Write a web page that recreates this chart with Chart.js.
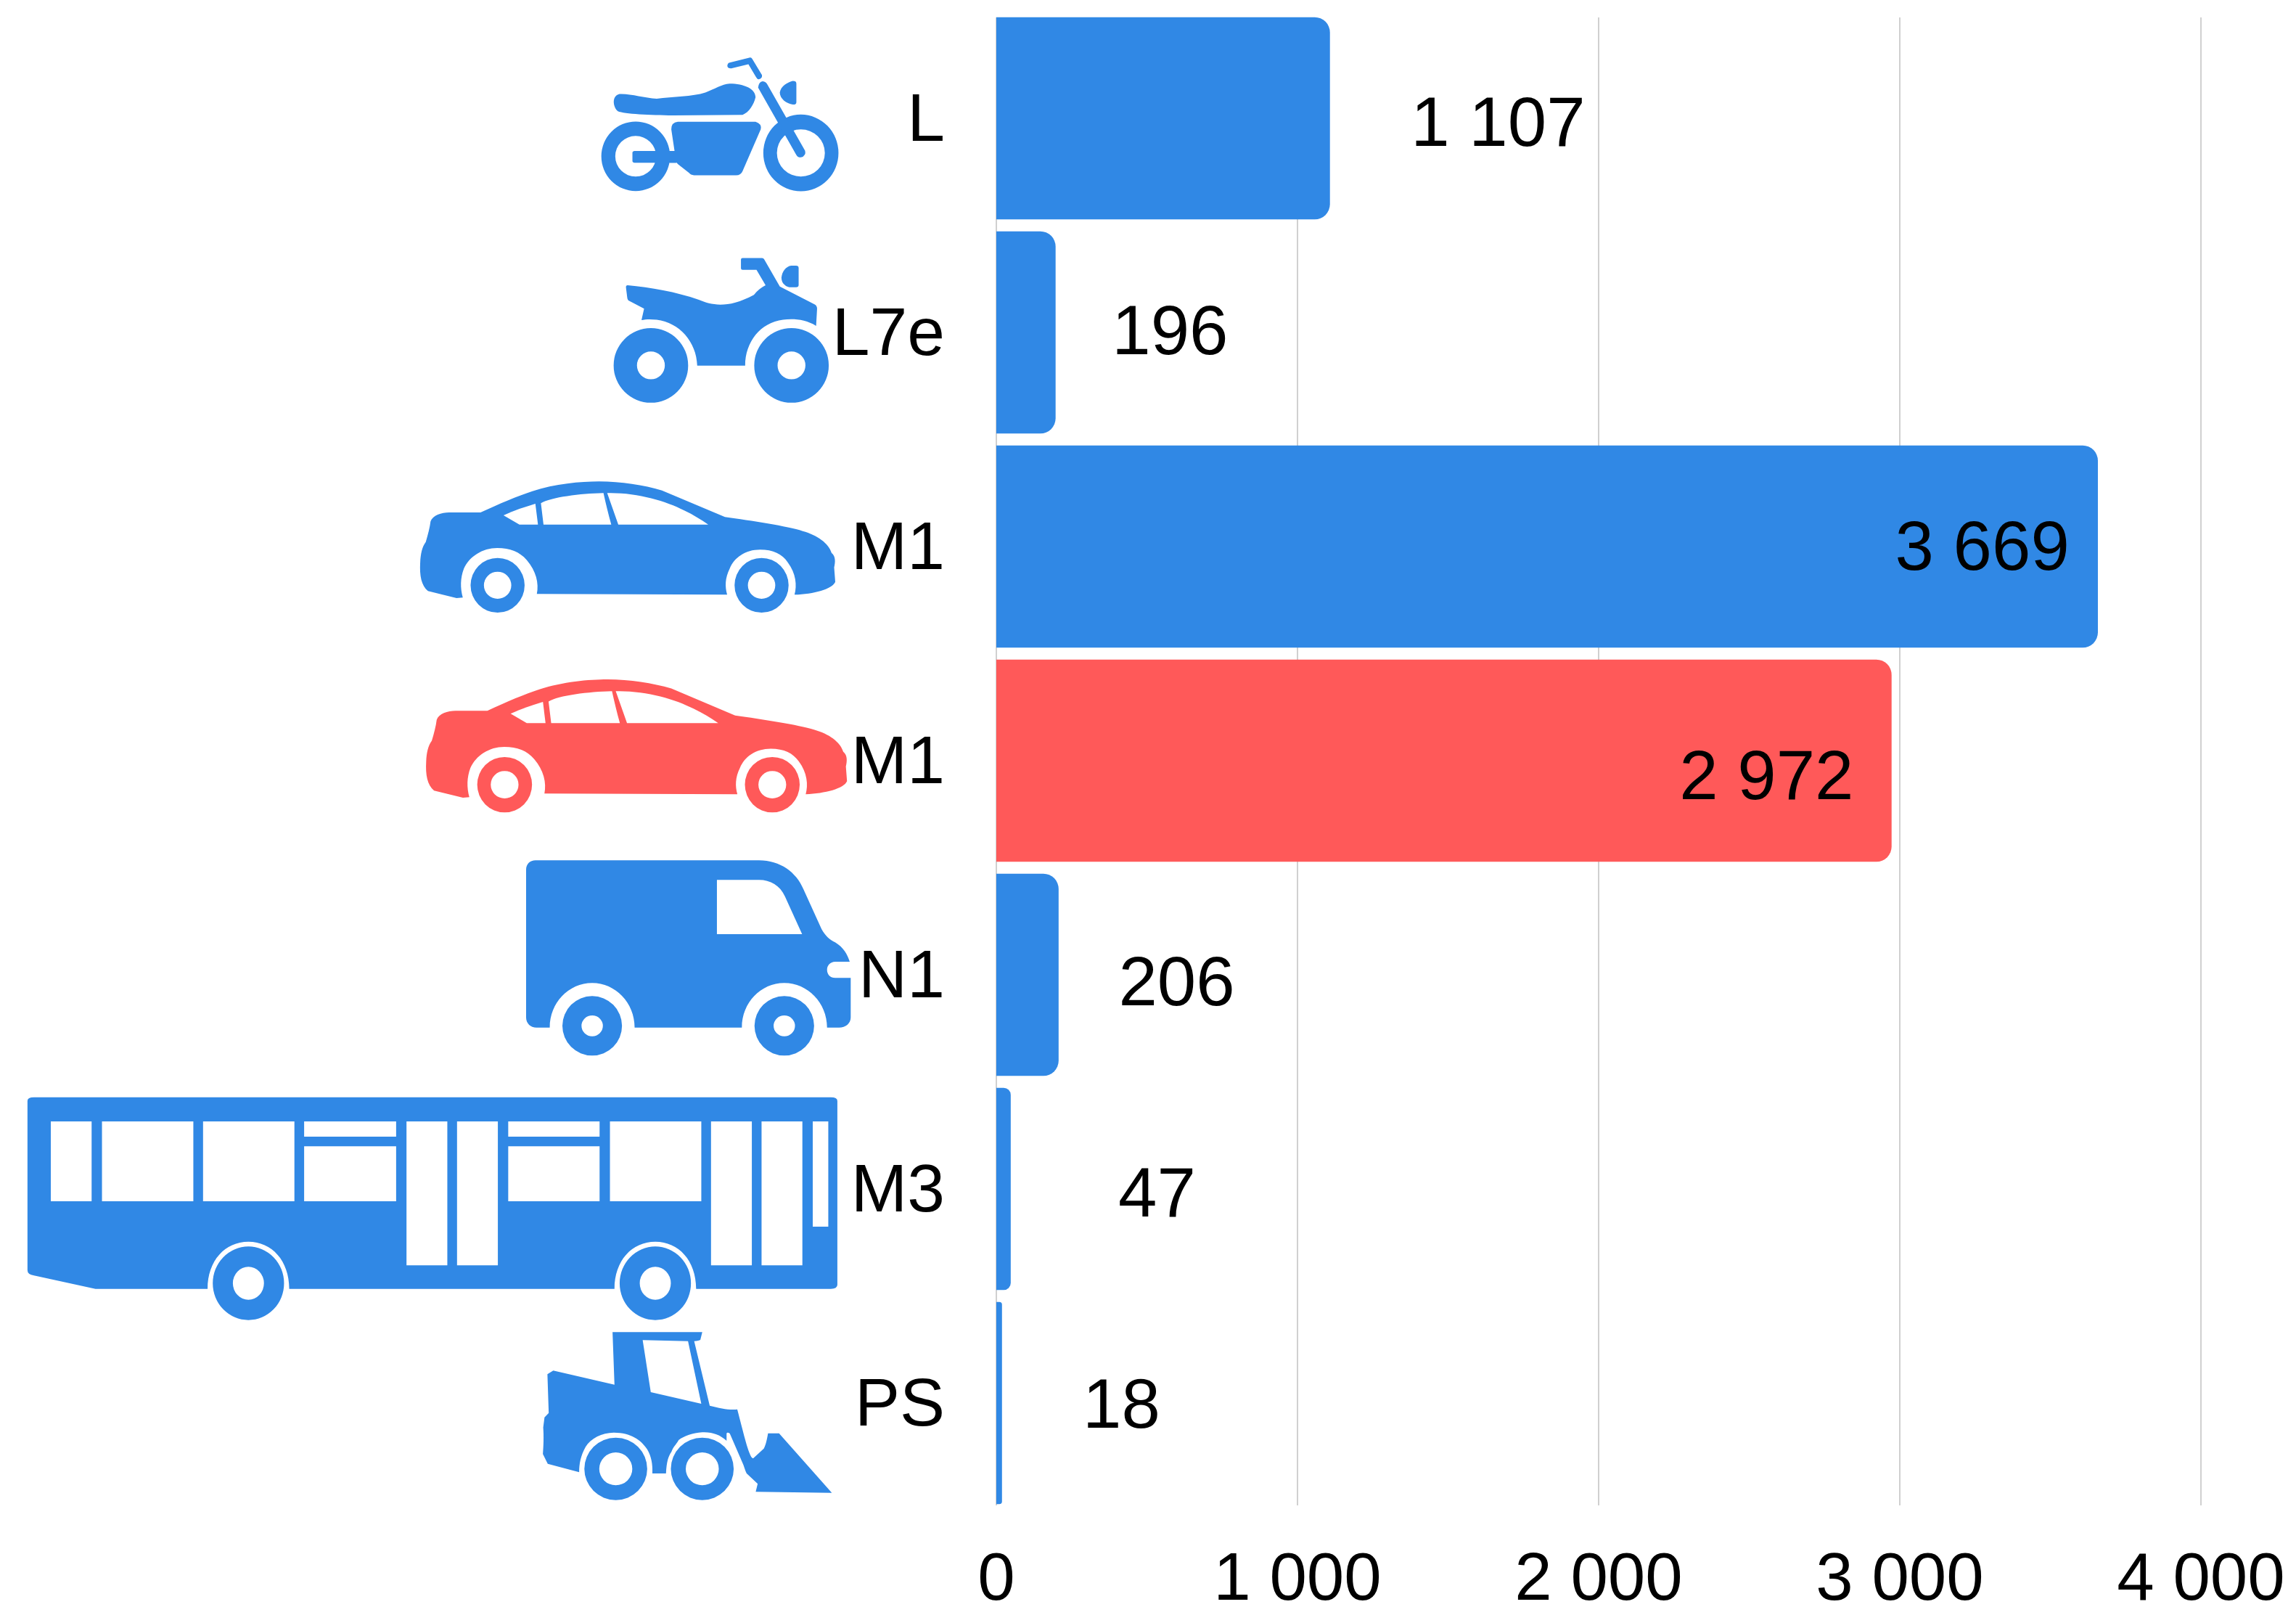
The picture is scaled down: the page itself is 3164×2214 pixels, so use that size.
<!DOCTYPE html>
<html>
<head>
<meta charset="utf-8">
<title>Vehicle categories</title>
<script src="https://cdn.jsdelivr.net/npm/chart.js@4"></script>
<style>
    html, body { margin: 0; padding: 0; background: #ffffff; }
    canvas { display: block; }
</style>
</head>
<body>
<canvas id="vehicleChart" width="3164" height="2214"></canvas>
<script>
// Chart values
const categories = ['L', 'L7e', 'M1', 'M1', 'N1', 'M3', 'PS'];
const printedValues = [1107, 196, 3669, 2972, 206, 47, 18];
// Bar lengths as drawn: the picture's 3 669 bar stops short of its label, at about 3 657
const barLengths = [1107, 196, 3657, 2972, 206, 47, 18];
const axisTicks = [0, 1000, 2000, 3000, 4000];
const highlightedRow = 3;

const BLUE = '#3088e5';
const RED = '#ff5959';
const FONT = '"Liberation Sans", Arial, sans-serif';

// Where each value label sits relative to the end and the middle of its bar
const labelShiftX = [232, 158, -159, -172, 163, 202, 165];
const labelShiftY = [12, 4, 6, 27, 16, 12, 8];

// Small helpers for the icon outlines
function oval(cx, cy, rx, ry) {
    return `M${cx - rx} ${cy} a${rx} ${ry} 0 1 0 ${2 * rx} 0 a${rx} ${ry} 0 1 0 ${-2 * rx} 0 Z`;
}
function box(x0, y0, x1, y1) {
    return `M${x0} ${y0} H${x1} V${y1} H${x0} Z`;
}
function wheel(cx, cy, rx, ry, holeX, holeY) {
    return oval(cx, cy, rx, ry) + oval(cx, cy, holeX, holeY);
}

const carShape = {
    solid: [
        'M85 295 C90 270 115 258 135 258 H220 C270 222 320 190 360 170 C420 140 490 130 540 130 C600 130 660 145 710 167 L880 277 C950 292 1050 315 1090 335 C1130 352 1160 385 1168 425 C1180 440 1178 465 1175 485 L1178 545 C1170 575 1120 595 1068 598 C1075 560 1072 510 1050 465 C1035 430 1010 412 975 412 C935 412 905 445 893 490 C880 530 880 565 886 598 L372 595 C378 550 370 500 345 455 C325 420 300 405 265 405 C225 405 190 440 175 490 C165 530 165 570 172 610 L155 612 L78 583 C60 560 55 520 57 465 C58 430 62 400 72 380 C78 350 83 320 85 295Z'
    ],
    cut: [
        'M282 270 C310 250 340 235 368 222 L375 308 H325Z',
        'M383 220 C410 195 490 180 552 178 C558 220 565 265 573 308 H390Z',
        'M562 178 C640 175 720 210 770 250 C795 268 815 288 835 308 H592Z'
    ],
    top: [wheel(266, 559, 73, 113, 37, 56), wheel(979, 559, 73, 113, 37, 56)]
};

// Each icon was traced in its own grid: origin is the page position, scale is grid units per page pixel
const vehicleIcons = [
    {
        origin: [780, 0], scale: [2.24, 2.61], color: BLUE,
        solid: [
            wheel(215, 562, 106, 125, 63, 73),
            'M212 543 H340 V585 H212 Q205 585 205 578 V550 Q205 543 212 543Z',
            'M345 438 H585 Q605 445 601 465 L545 615 Q540 630 525 630 H395 Q385 630 380 622 L345 590 L342 585 L320 585 L320 543 L335 543 L325 465 Q325 440 345 438Z',
            'M165 338 C200 336 240 352 280 355 C330 347 390 348 430 333 C460 320 480 303 505 301 C550 301 585 320 585 350 C580 375 565 405 545 413 L330 415 C260 414 180 410 160 400 C145 385 140 345 165 338Z',
            wheel(725, 550, 116, 138, 74, 85),
            'M593 315 Q595 293 607 292 Q618 293 622 305 L738 542 Q742 560 725 566 Q714 566 710 555 Z',
            'M503 226 L568 207 Q572 206 575 212 L605 270 Q606 282 595 285 Q590 285 587 278 L563 231 L510 246 Q497 246 498 235 Q499 228 503 226Z',
            'M700 291 Q711 291 711 300 V368 Q711 377 700 376 C680 373 660 355 660 333 C662 310 685 295 700 291Z'
        ],
        cut: [], top: []
    },
    {
        origin: [780, 0], scale: [2.24, 2.61], color: BLUE,
        solid: [
            'M190 1026 C260 1033 340 1050 410 1078 C450 1098 500 1110 580 1060 C590 1045 605 1033 616 1026 L588 970 H545 Q540 970 540 965 V933 Q540 928 545 928 H605 Q610 928 612 933 L660 1030 L768 1095 Q775 1100 775 1110 L772 1172 C740 1148 700 1145 670 1150 C600 1160 553 1230 553 1315 H405 C403 1230 350 1160 280 1150 C262 1147 245 1148 233 1151 L241 1110 L195 1082 Q190 1080 189 1070 L185 1033 Q185 1026 190 1026Z',
            'M695 955 H710 Q718 955 718 963 V1025 Q718 1033 710 1033 H695 C680 1033 665 1020 665 998 C667 975 680 957 695 955Z',
            wheel(262, 1314, 115, 134, 43, 50),
            wheel(696, 1314, 115, 134, 43, 50)
        ],
        cut: [], top: []
    },
    { origin: [550, 620], scale: [1.96, 3], color: BLUE, ...carShape },
    { origin: [557.8, 892], scale: [1.933, 2.956], color: RED, ...carShape },
    {
        origin: [700, 1160], scale: [2.24, 3], color: BLUE,
        solid: [
            'M85 76 H775 C840 76 890 125 912 195 L968 360 C980 390 995 405 1010 415 C1035 435 1048 465 1055 495 H1010 C995 495 985 510 985 528 C985 548 995 562 1010 562 H1058 V725 C1058 750 1042 767 1022 767 H985 C985 665 925 583 853 583 C780 583 722 665 722 767 H391 C391 665 332 583 260 583 C187 583 129 665 129 767 H88 C70 767 56 750 56 725 V115 C56 92 68 76 85 76Z'
        ],
        cut: ['M645 157 H775 C810 157 840 180 855 225 L908 381 H645Z'],
        top: [wheel(260, 760, 92, 123, 33, 43), wheel(853, 760, 92, 123, 33, 43)]
    },
    {
        origin: [20, 1480], scale: [1.12, 3], color: BLUE,
        solid: [
            'M30 95 H1260 Q1270 95 1270 110 V870 Q1270 887 1260 887 H1052 C1052 770 1025 692 989 692 C953 692 926 770 926 887 H424 C424 770 397 692 361 692 C325 692 298 770 298 887 H125 L30 832 Q20 828 20 810 V110 Q20 95 30 95Z'
        ],
        cut: [
            box(56, 195, 119, 525), box(135, 195, 276, 525), box(291, 195, 432, 525),
            box(447, 195, 589, 258), box(447, 298, 589, 525),
            box(605, 195, 668, 790), box(683, 195, 746, 790),
            box(762, 195, 903, 258), box(762, 298, 903, 525), box(919, 195, 1060, 525),
            box(1075, 195, 1138, 790), box(1153, 195, 1216, 790), box(1232, 195, 1256, 630)
        ],
        top: [wheel(361, 864, 55, 152, 24, 68), wheel(989, 864, 55, 152, 24, 68)]
    },
    {
        origin: [720, 1800], scale: [2.24, 3], color: BLUE,
        solid: [
            'M278 106 H555 L549 138 Q545 142 530 143 L578 410 C610 420 640 430 663 425 C680 510 695 600 708 625 L712 628 L745 587 C752 570 755 545 758 524 H792 L955 770 L720 766 L726 733 L692 690 C688 680 686 670 682 655 L640 525 Q632 518 630 525 L630 555 C610 530 585 518 555 520 C525 522 500 535 482 552 C475 570 465 580 460 600 C450 620 445 640 443 690 H401 C402 650 398 620 385 590 C365 550 335 522 282 521 C245 522 210 545 195 580 C180 615 175 650 175 685 L78 650 L63 610 C65 570 66 540 64 500 L68 458 L81 440 L77 280 L95 265 L284 323 Z'
        ],
        cut: ['M371 139 L511 143 L552 402 L396 354Z'],
        top: [wheel(288, 671, 97, 129, 51, 68), wheel(555, 671, 97, 129, 51, 68)]
    }
];

function spacedThousands(value) {
    return String(value).replace(/\B(?=(\d{3})+$)/g, ' ');
}

// Gridlines only run the height of the bars, not the whole chart area
const shortGridPlugin = {
    id: 'shortGrid',
    beforeDatasetsDraw(chart) {
        const ctx = chart.ctx;
        const xScale = chart.scales.x;
        ctx.save();
        ctx.strokeStyle = '#d0d0d0';
        ctx.lineWidth = 2;
        axisTicks.forEach(tick => {
            const x = xScale.getPixelForValue(tick);
            ctx.beginPath();
            ctx.moveTo(x, 24);
            ctx.lineTo(x, 2074);
            ctx.stroke();
        });
        ctx.restore();
    }
};

const valueLabelPlugin = {
    id: 'valueLabels',
    afterDatasetsDraw(chart) {
        const ctx = chart.ctx;
        const bars = chart.getDatasetMeta(0).data;
        ctx.save();
        ctx.font = `96px ${FONT}`;
        ctx.fillStyle = '#000000';
        ctx.textAlign = 'center';
        ctx.textBaseline = 'middle';
        bars.forEach((bar, i) => {
            ctx.fillText(spacedThousands(printedValues[i]), bar.x + labelShiftX[i], bar.y + labelShiftY[i]);
        });
        ctx.restore();
    }
};

const iconPlugin = {
    id: 'vehicleIcons',
    afterDraw(chart) {
        const ctx = chart.ctx;
        vehicleIcons.forEach(icon => {
            ctx.save();
            ctx.translate(icon.origin[0], icon.origin[1]);
            ctx.scale(1 / icon.scale[0], 1 / icon.scale[1]);
            ctx.fillStyle = icon.color;
            icon.solid.forEach(d => ctx.fill(new Path2D(d), 'evenodd'));
            ctx.fillStyle = '#ffffff';
            icon.cut.forEach(d => ctx.fill(new Path2D(d), 'evenodd'));
            ctx.fillStyle = icon.color;
            icon.top.forEach(d => ctx.fill(new Path2D(d), 'evenodd'));
            ctx.restore();
        });
    }
};

// The big tick labels would otherwise make the layout shrink the plot area
function dropScalePadding(scale) {
    scale.paddingTop = 0;
    scale.paddingBottom = 0;
    scale.paddingLeft = 0;
    scale.paddingRight = 0;
}

new Chart(document.getElementById('vehicleChart').getContext('2d'), {
    type: 'bar',
    data: {
        labels: categories,
        datasets: [{
            data: barLengths,
            backgroundColor: categories.map((c, i) => (i === highlightedRow ? RED : BLUE)),
            borderRadius: 21,
            borderSkipped: 'left',
            barThickness: 278
        }]
    },
    options: {
        indexAxis: 'y',
        responsive: false,
        animation: false,
        layout: { padding: { top: 15.5, right: 131, left: 0, bottom: 0 } },
        plugins: { legend: { display: false }, tooltip: { enabled: false } },
        scales: {
            x: {
                min: 0,
                max: 4000,
                afterBuildTicks(scale) {
                    scale.ticks = axisTicks.map(value => ({ value }));
                },
                afterFit(scale) {
                    scale.height = 133.5;
                    dropScalePadding(scale);
                },
                grid: { display: false },
                border: { display: false },
                ticks: {
                    padding: 34,
                    maxRotation: 0,
                    color: '#000000',
                    font: { family: FONT, size: 92.5 },
                    callback: value => spacedThousands(value)
                }
            },
            y: {
                afterFit(scale) {
                    scale.width = 1373;
                    dropScalePadding(scale);
                },
                grid: { display: false, drawTicks: false },
                border: { display: false },
                ticks: {
                    padding: 71,
                    labelOffset: 5,
                    color: '#000000',
                    font: { family: FONT, size: 93 }
                }
            }
        }
    },
    plugins: [shortGridPlugin, valueLabelPlugin, iconPlugin]
});
</script>
</body>
</html>
